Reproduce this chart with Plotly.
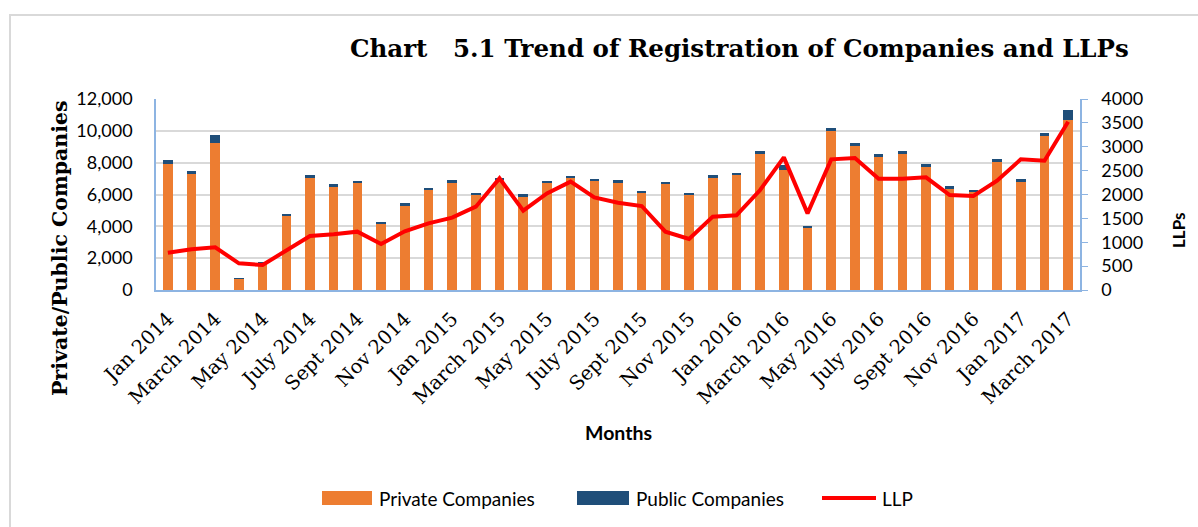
import plotly.graph_objects as go

month_names = ["Jan", "Feb", "March", "April", "May", "June", "July", "Aug", "Sept", "Oct", "Nov", "Dec"]
months = [f"{month_names[i % 12]} {2014 + i // 12}" for i in range(39)]

private = [7916, 7266, 9235, 700, 1670, 4690, 7078, 6533, 6700, 4167, 5340, 6282,
           6722, 5968, 6950, 5863, 6700, 7036, 6847, 6722, 6094, 6659, 5989, 7078,
           7203, 8565, 7559, 3916, 9988, 9067, 8355, 8544, 7748, 6408, 6177, 8062,
           6847, 9674, 10679]
public = [251, 231, 502, 33, 68, 84, 125, 105, 147, 84, 104, 147,
          167, 126, 86, 168, 147, 146, 147, 167, 146, 126, 125, 125,
          126, 167, 273, 63, 168, 168, 189, 188, 167, 104, 105, 167,
          105, 189, 608]
llp = [782, 852, 893, 558, 524, 824, 1131, 1166, 1222, 963, 1229, 1396,
       1515, 1745, 2338, 1661, 2024, 2269, 1940, 1829, 1759, 1222, 1068, 1536,
       1564, 2094, 2778, 1605, 2736, 2764, 2331, 2331, 2359, 1989, 1968, 2289,
       2736, 2708, 3525]
tick_labels = months[::2]
series_names = ["Private Companies", "Public Companies", "LLP"]

ORANGE = "#ED7D31"
BLUE = "#1F4E79"
RED = "#FF0000"
AXIS_BLUE = "#8DB4E2"
GRID = "#D9D9D9"
SANS = "Lato, 'Liberation Sans', sans-serif"
SERIF = "'DejaVu Serif', serif"

W, H = 1198, 527
L, R, T, B = 156, 118, 99, 237
pw, ph = W - L - R, H - T - B

def px(x):
    return (x - L) / pw

def py(y):
    return (H - B - y) / ph

fig = go.Figure()
fig.add_trace(go.Bar(x=months, y=private, name=series_names[0], showlegend=False,
                     marker=dict(color=ORANGE, line=dict(width=0))))
fig.add_trace(go.Bar(x=months, y=public, name=series_names[1], showlegend=False,
                     marker=dict(color=BLUE, line=dict(width=0))))
fig.add_trace(go.Scatter(x=months, y=llp, name=series_names[2], mode="lines", showlegend=False,
                         line=dict(color=RED, width=4), yaxis="y2"))

# legend (drawn as swatches + text to mimic wide Excel swatches)
LEG_Y = 498
legend_items = [
    (series_names[0], "rect", ORANGE, 322, 372, 377),
    (series_names[1], "rect", BLUE, 577, 629, 634),
    (series_names[2], "line", RED, 822, 876, 880),
]
shapes = [dict(type="rect", xref="paper", yref="paper", x0=px(10), x1=px(1250),
               y0=py(600), y1=py(15), line=dict(color=GRID, width=2), layer="below")]
annotations = []
for name, kind, color, x0, x1, xt in legend_items:
    if kind == "rect":
        shapes.append(dict(type="rect", xref="paper", yref="paper", x0=px(x0), x1=px(x1),
                           y0=py(LEG_Y + 7), y1=py(LEG_Y - 7), fillcolor=color,
                           line=dict(width=0)))
    else:
        shapes.append(dict(type="line", xref="paper", yref="paper", x0=px(x0), x1=px(x1),
                           y0=py(LEG_Y), y1=py(LEG_Y), line=dict(color=color, width=4)))
    annotations.append(dict(text=name, xref="paper", yref="paper", x=px(xt), y=py(LEG_Y),
                            xanchor="left", yanchor="middle", showarrow=False,
                            font=dict(family=SANS, size=19, color="#000")))

annotations += [
    dict(text="Chart\u00a0\u00a0\u00a05.1 Trend of Registration of Companies and LLPs",
         xref="paper", yref="paper", x=px(739), y=py(48), xanchor="center", yanchor="middle",
         showarrow=False, font=dict(family=SERIF, size=24.5, color="#000", weight="bold")),
    dict(text="Private/Public Companies", xref="paper", yref="paper", x=px(60), y=py(248),
         xanchor="center", yanchor="middle", textangle=-90, showarrow=False,
         font=dict(family=SERIF, size=20.5, color="#000", weight="bold")),
    dict(text="LLPs", xref="paper", yref="paper", x=px(1178), y=py(231),
         xanchor="center", yanchor="middle", textangle=-90, showarrow=False,
         font=dict(family=SANS, size=17, color="#000", weight="bold")),
    dict(text="Months", xref="paper", yref="paper", x=px(618), y=py(432),
         xanchor="center", yanchor="middle", showarrow=False,
         font=dict(family=SANS, size=19.5, color="#000", weight="bold")),
]

fig.update_layout(
    width=W, height=H,
    margin=dict(l=L, r=R, t=T, b=B),
    paper_bgcolor="white", plot_bgcolor="white",
    barmode="stack", bargap=0.6,
    showlegend=False,
    xaxis=dict(type="category", tickmode="array", tickvals=tick_labels, ticktext=tick_labels,
               tickangle=-45, tickfont=dict(family=SERIF, size=19.5, color="#000"),
               showline=True, linecolor=AXIS_BLUE, linewidth=1.5, showgrid=False,
               ticks="", ticklabelstandoff=8, range=[-0.5, 38.5]),
    yaxis=dict(range=[0, 12000], dtick=2000, tickformat=",", showgrid=True, gridcolor=GRID,
               gridwidth=1.5, showline=True, linecolor=AXIS_BLUE, linewidth=1.5,
               tickfont=dict(family=SANS, size=18, color="#000"), ticks="",
               ticklabelstandoff=18, zeroline=False),
    yaxis2=dict(range=[0, 4000], dtick=500, overlaying="y", side="right", showgrid=False,
                showline=True, linecolor=AXIS_BLUE, linewidth=1.5, ticks="outside",
                ticklen=6, tickcolor=AXIS_BLUE, tickfont=dict(family=SANS, size=18, color="#000"),
                ticklabelstandoff=10, zeroline=False),
    shapes=shapes,
    annotations=annotations,
)

fig.write_html("out.html", config={"displayModeBar": False},
               post_script="document.body.style.margin='0';")
